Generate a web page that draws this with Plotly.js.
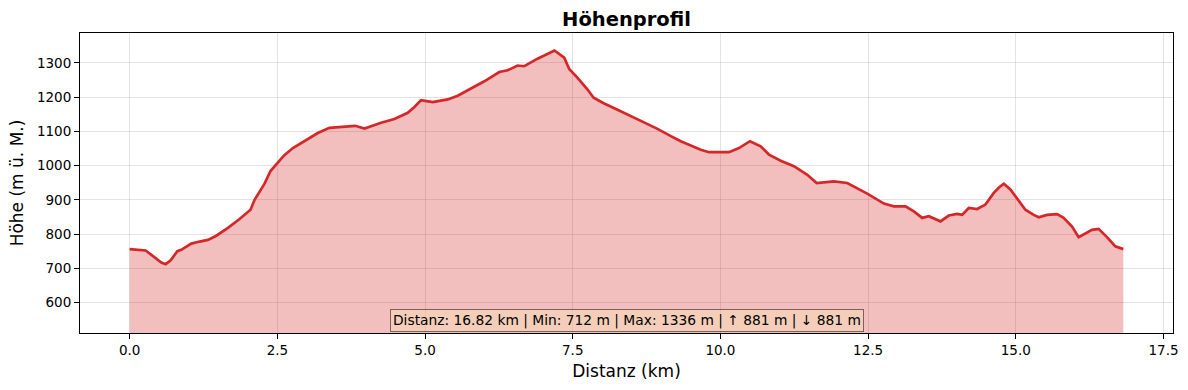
<!DOCTYPE html>
<html>
<head>
<meta charset="utf-8">
<script src="https://cdn.plot.ly/plotly-3.0.1.min.js"></script>
<style>html,body{margin:0;padding:0;background:#fff;}#chart{width:1188px;height:390px;}</style>
</head>
<body>
<div id="chart"></div>
<script>
const distanceKm = [0, 0.27, 0.536, 0.61, 0.694, 0.807, 0.874, 0.976, 1.043, 1.184, 1.325, 1.466, 1.664, 1.86, 2.046, 2.114, 2.283, 2.384, 2.509, 2.61, 2.763, 2.959, 3.185, 3.382, 3.636, 3.817, 3.974, 4.256, 4.481, 4.707, 4.82, 4.932, 5.13, 5.384, 5.553, 5.778, 6.003, 6.257, 6.398, 6.568, 6.679, 6.905, 7.19, 7.356, 7.44, 7.582, 7.751, 7.853, 8.032, 8.258, 8.427, 8.708, 8.935, 9.16, 9.329, 9.667, 9.807, 10.145, 10.314, 10.5, 10.681, 10.822, 11.02, 11.244, 11.471, 11.628, 11.921, 12.147, 12.485, 12.767, 12.935, 13.133, 13.274, 13.415, 13.527, 13.725, 13.865, 14.007, 14.092, 14.204, 14.345, 14.486, 14.627, 14.711, 14.796, 14.909, 14.993, 15.078, 15.162, 15.303, 15.387, 15.529, 15.698, 15.81, 15.952, 16.064, 16.177, 16.29, 16.402, 16.544, 16.684, 16.82];
const elevationM = [756, 752, 717, 712, 723, 750, 754, 766, 772, 778, 783, 795, 818, 844, 871, 900, 947, 984, 1008, 1029, 1051, 1071, 1095, 1110, 1113, 1116, 1108, 1125, 1136, 1154, 1171, 1191, 1185, 1193, 1204, 1224, 1246, 1273, 1278, 1292, 1290, 1312, 1336, 1315, 1282, 1256, 1222, 1198, 1181, 1163, 1149, 1126, 1107, 1086, 1071, 1046, 1039, 1039, 1051, 1071, 1056, 1032, 1014, 998, 973, 949, 954, 949, 918, 889, 881, 881, 866, 847, 852, 837, 854, 859, 856, 876, 873, 886, 920, 935, 947, 930, 910, 891, 871, 856, 849, 856, 858, 847, 822, 791, 801, 812, 815, 791, 764, 756];
const statsText = "Distanz: 16.82 km | Min: 712 m | Max: 1336 m | ↑ 881 m | ↓ 881 m";
const chartTitle = "Höhenprofil";
const xLabel = "Distanz (km)";
const yLabel = "Höhe (m ü. M.)";
const xTickVals = [0, 2.5, 5, 7.5, 10, 12.5, 15, 17.5];
const xTickText = ["0.0", "2.5", "5.0", "7.5", "10.0", "12.5", "15.0", "17.5"];
const yTickVals = [600, 700, 800, 900, 1000, 1100, 1200, 1300];

const font = "DejaVu Sans, sans-serif";
const traces = [
  {x: distanceKm, y: elevationM, type: "scatter", mode: "lines", fill: "tozeroy",
   fillcolor: "rgba(214,39,40,0.3)", line: {color: "rgba(214,39,40,0.35)", width: 1}, hoverinfo: "skip", showlegend: false},
  {x: distanceKm, y: elevationM, type: "scatter", mode: "lines",
   line: {color: "#d62728", width: 2.7}, showlegend: false}
];
const axisCommon = {
  showline: true, mirror: true, linecolor: "#000", linewidth: 1,
  ticks: "outside", ticklen: 5, tickcolor: "#000", tickwidth: 1,
  showgrid: true, gridcolor: "rgba(176,176,176,0.35)", gridwidth: 1,
  zeroline: false, tickfont: {family: font, size: 13.5, color: "#000"}
};
const layout = {
  width: 1188, height: 390,
  margin: {l: 80, r: 15, t: 33, b: 57},
  paper_bgcolor: "#fff", plot_bgcolor: "#fff",
  title: {text: "<b>" + chartTitle + "</b>", font: {family: font, size: 19.5, color: "#000"}, x: 0.5, xref: "paper", y: 0.95, yanchor: "middle"},
  xaxis: Object.assign({}, axisCommon, {range: [-0.841, 17.661], tickvals: xTickVals, ticktext: xTickText,
    title: {text: xLabel, font: {family: font, size: 17, color: "#000"}, standoff: 7}}),
  yaxis: Object.assign({}, axisCommon, {range: [511, 1387], tickvals: yTickVals,
    title: {text: yLabel, font: {family: font, size: 17, color: "#000"}, standoff: 8}}),
  annotations: [{
    text: statsText, xref: "paper", yref: "paper", x: 0.5, y: 0.003, xanchor: "center", yanchor: "bottom",
    showarrow: false, font: {family: font, size: 13.8, color: "#000"},
    bgcolor: "rgba(245,222,179,0.5)", bordercolor: "rgba(0,0,0,0.5)", borderwidth: 1, borderpad: 2
  }]
};
Plotly.newPlot("chart", traces, layout, {displayModeBar: false, staticPlot: true});
</script>
</body>
</html>
